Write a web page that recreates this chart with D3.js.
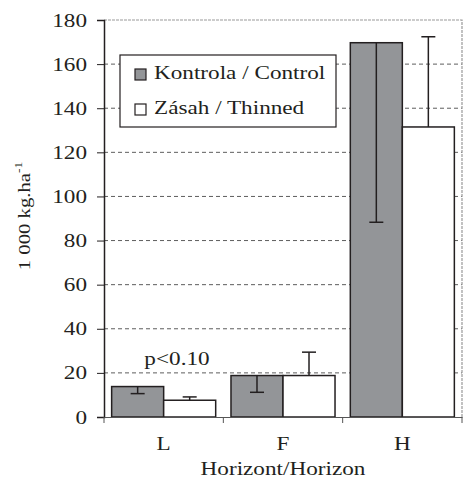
<!DOCTYPE html>
<html>
<head>
<meta charset="UTF-8">
<script src="https://cdn.jsdelivr.net/npm/d3@7"></script>
<style>
  body { margin: 0; background: #fff; }
</style>
</head>
<body>
<svg id="chart" width="463" height="483"></svg>
<script>
// data
const horizons = ["L", "F", "H"];
const seriesNames = ["Kontrola / Control", "Zásah / Thinned"];
const controlValues = [13.8, 18.8, 169.7];
const controlLow = [10.6, 11.2, 88.3];      // error bars drawn downward
const thinnedValues = [7.6, 18.8, 131.5];
const thinnedHigh = [9.1, 29.4, 172.4];     // error bars drawn upward
const yTicks = [0, 20, 40, 60, 80, 100, 120, 140, 160, 180];

const dims = { left: 104, right: 462, top: 20, bottom: 417 };
const STRETCH = 1.22; // the original type is set a bit wide

const svg = d3.select("#chart");

// serif face + horizontal widening like the reference
function serif(sel, size) {
    sel.style("font-family", '"Liberation Serif"')
        .style("font-size", size + "px")
        .attr("fill", "#231f20");
}
function stretch(sel) {
    sel.each(function() {
        const w = this.getComputedTextLength();
        d3.select(this)
            .attr("textLength", w * STRETCH)
            .attr("lengthAdjust", "spacingAndGlyphs");
    });
}

const x = d3.scaleBand()
    .domain(horizons)
    .range([dims.left, dims.right])
    .paddingInner(0)
    .paddingOuter(0);

const xSub = d3.scaleBand()
    .domain(seriesNames)
    .range([0, x.bandwidth()])
    .paddingInner(0)
    .paddingOuter(0.147);

const y = d3.scaleLinear()
    .domain([0, 180])
    .range([dims.bottom, dims.top]);

// grid lines
svg.append("g")
    .selectAll("line")
    .data(yTicks.filter(d => d > 0 && d < 180))
    .join("line")
    .attr("x1", dims.left)
    .attr("x2", dims.right)
    .attr("y1", d => y(d))
    .attr("y2", d => y(d))
    .attr("stroke", "#333")
    .attr("stroke-width", 0.8)
    .attr("stroke-dasharray", "4,3");

// frame top + right
svg.append("path")
    .attr("d", `M${dims.left},${y(180)}H${dims.right}V${dims.bottom}`)
    .attr("fill", "none")
    .attr("stroke", "#999")
    .attr("stroke-width", 1.2)
    .attr("stroke-dasharray", "3,1");

// bars
const groups = svg.append("g")
    .selectAll("g")
    .data(horizons)
    .join("g")
    .attr("transform", d => `translate(${x(d)},0)`);

groups.append("rect")
    .attr("x", xSub(seriesNames[0]))
    .attr("width", xSub.bandwidth())
    .attr("y", (d, i) => y(controlValues[i]))
    .attr("height", (d, i) => y(0) - y(controlValues[i]))
    .attr("fill", "#939598")
    .attr("stroke", "#231f20")
    .attr("stroke-width", 1.5);

groups.append("rect")
    .attr("x", xSub(seriesNames[1]))
    .attr("width", xSub.bandwidth())
    .attr("y", (d, i) => y(thinnedValues[i]))
    .attr("height", (d, i) => y(0) - y(thinnedValues[i]))
    .attr("fill", "#fff")
    .attr("stroke", "#231f20")
    .attr("stroke-width", 1.5);

// error bars
const capW = 7;
groups.each(function(d, i) {
    const g = d3.select(this);
    const cx0 = xSub(seriesNames[0]) + xSub.bandwidth() / 2;
    const cx1 = xSub(seriesNames[1]) + xSub.bandwidth() / 2;
    const err = [
        [cx0, controlValues[i], controlLow[i]],
        [cx1, thinnedValues[i], thinnedHigh[i]]
    ];
    err.forEach(([cx, v, e]) => {
        g.append("line")
            .attr("x1", cx).attr("x2", cx)
            .attr("y1", y(v)).attr("y2", y(e))
            .attr("stroke", "#231f20").attr("stroke-width", 1.5);
        g.append("line")
            .attr("x1", cx - capW).attr("x2", cx + capW)
            .attr("y1", y(e)).attr("y2", y(e))
            .attr("stroke", "#231f20").attr("stroke-width", 1.5);
    });
});

// y axis
const yAxis = svg.append("g")
    .attr("transform", `translate(${dims.left},0)`)
    .call(d3.axisLeft(y).tickValues(yTicks).tickSize(7).tickPadding(10));
yAxis.attr("font-family", null).attr("font-size", null);
yAxis.select(".domain").attr("stroke", "#231f20").attr("stroke-width", 1.5);
yAxis.selectAll(".tick line").attr("stroke", "#231f20");
yAxis.selectAll("text")
    .call(serif, 19)
    .call(stretch);

// x axis
const xAxis = svg.append("g")
    .attr("transform", `translate(0,${dims.bottom})`)
    .call(d3.axisBottom(x).tickSize(0).tickPadding(0));
xAxis.attr("font-family", null).attr("font-size", null);
xAxis.select(".domain").attr("stroke", "#555").attr("stroke-width", 1.2);
xAxis.selectAll("text")
    .call(serif, 19)
    .attr("y", 33)
    .attr("dy", null)
    .call(stretch);
svg.append("g")
    .selectAll("line")
    .data(horizons.map(h => x(h)).concat([dims.right]))
    .join("line")
    .attr("x1", d => d).attr("x2", d => d)
    .attr("y1", dims.bottom).attr("y2", dims.bottom + 6)
    .attr("stroke", "#555");

// axis titles
svg.append("text")
    .attr("x", (dims.left + dims.right) / 2)
    .attr("y", 475)
    .attr("text-anchor", "middle")
    .call(serif, 19)
    .text("Horizont/Horizon")
    .call(stretch);

const yLabel = svg.append("text")
    .attr("transform", `translate(30,216) rotate(-90) scale(${STRETCH},1)`)
    .attr("text-anchor", "middle")
    .call(serif, 17);
yLabel.append("tspan").call(serif, 17).text("1 000 kg.ha");
yLabel.append("tspan").call(serif, 11).attr("dy", -8).text("-1");

// annotation
svg.append("text")
    .attr("x", 177)
    .attr("y", 365)
    .attr("text-anchor", "middle")
    .call(serif, 19)
    .text("p<0.10")
    .call(stretch);

// legend
const legend = svg.append("g");
legend.append("rect")
    .attr("x", 120).attr("y", 55)
    .attr("width", 216).attr("height", 72)
    .attr("fill", "#fff")
    .attr("stroke", "#231f20")
    .attr("stroke-width", 1.2);
const legendFills = ["#939598", "#fff"];
seriesNames.forEach((name, i) => {
    const ly = 74 + i * 35;
    legend.append("rect")
        .attr("x", 135).attr("y", ly - 5)
        .attr("width", 11).attr("height", 11)
        .attr("fill", legendFills[i])
        .attr("stroke", "#231f20")
        .attr("stroke-width", 1.2);
    legend.append("text")
        .attr("x", 154).attr("y", ly + 5)
        .call(serif, 19)
        .text(name)
        .call(stretch);
});
</script>
</body>
</html>
